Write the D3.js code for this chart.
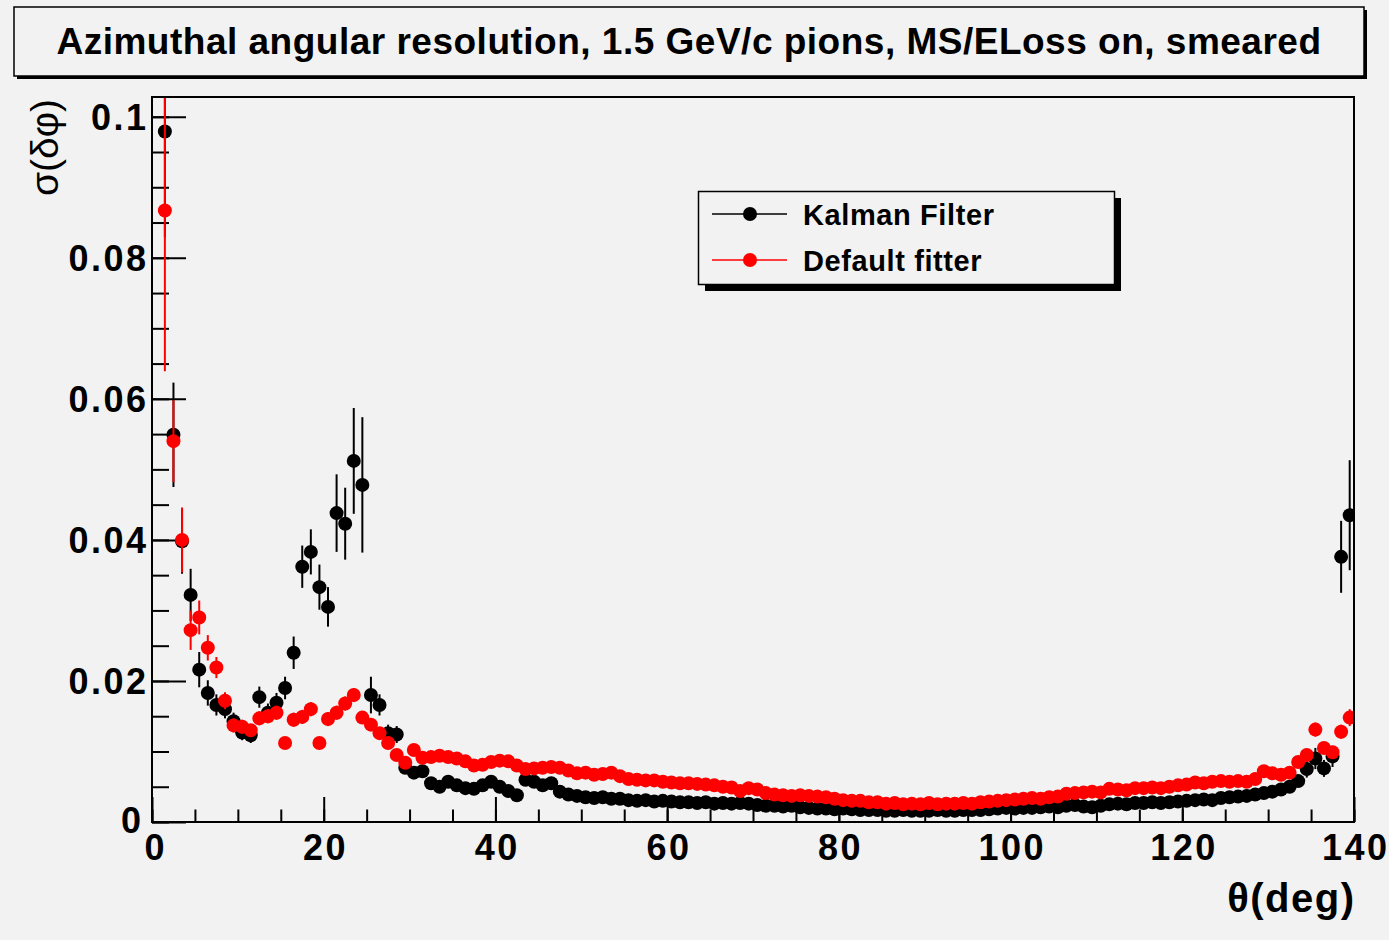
<!DOCTYPE html>
<html><head><meta charset="utf-8">
<script src="https://cdn.jsdelivr.net/npm/d3@7"></script>
<style>
html,body{margin:0;padding:0;background:#f2f2f2;}
svg{display:block;}
text{font-family:"Liberation Sans",Arial,Helvetica,sans-serif;}
</style></head>
<body>
<svg id="c" width="1389" height="940"></svg>
<script>
// ---------- data ----------
const title = "Azimuthal angular resolution, 1.5 GeV/c pions, MS/ELoss on, smeared";
const xTitle = "θ(deg)";
const yTitle = "σ(δφ)";
const seriesNames = ["Kalman Filter", "Default fitter"];
const xTicks = [0, 20, 40, 60, 80, 100, 120, 140];
const xTickLabels = ["0", "20", "40", "60", "80", "100", "120", "140"];
const yTicks = [0, 0.02, 0.04, 0.06, 0.08, 0.1];
const yTickLabels = ["0", "0.02", "0.04", "0.06", "0.08", "0.1"];

// bin centres (deg)
const theta = [1.5,2.5,3.5,4.5,5.5,6.5,7.5,8.5,9.5,10.5,11.5,12.5,13.5,14.5,15.5,16.5,17.5,18.5,19.5,20.5,
21.5,22.5,23.5,24.5,25.5,26.5,27.5,28.5,29.5,30.5,31.5,32.5,33.5,34.5,35.5,36.5,37.5,38.5,39.5,40.5,
41.5,42.5,43.5,44.5,45.5,46.5,47.5,48.5,49.5,50.5,51.5,52.5,53.5,54.5,55.5,56.5,57.5,58.5,59.5,60.5,
61.5,62.5,63.5,64.5,65.5,66.5,67.5,68.5,69.5,70.5,71.5,72.5,73.5,74.5,75.5,76.5,77.5,78.5,79.5,80.5,
81.5,82.5,83.5,84.5,85.5,86.5,87.5,88.5,89.5,90.5,91.5,92.5,93.5,94.5,95.5,96.5,97.5,98.5,99.5,100.5,
101.5,102.5,103.5,104.5,105.5,106.5,107.5,108.5,109.5,110.5,111.5,112.5,113.5,114.5,115.5,116.5,117.5,118.5,119.5,120.5,
121.5,122.5,123.5,124.5,125.5,126.5,127.5,128.5,129.5,130.5,131.5,132.5,133.5,134.5,135.5,136.5,137.5,138.5,139.5];

const kalman = [0.0979,0.0549,0.0398,0.0322,0.0216,0.0183,0.0166,0.0160,0.0143,0.0127,
0.0123,0.0177,0.0155,0.0169,0.0190,0.0240,0.0362,0.0383,0.0333,0.0305,
0.0438,0.0423,0.0512,0.0478,0.0180,0.0166,0.0126,0.0124,0.0077,0.0070,
0.0072,0.0055,0.0050,0.0057,0.0052,0.0048,0.0047,0.0052,0.0057,0.0050,
0.0044,0.0038,0.0060,0.0057,0.0052,0.0055,0.0043,0.0039,0.0037,0.0035,
0.0034,0.0035,0.0033,0.0033,0.0031,0.0030,0.0031,0.0029,0.0030,0.0029,
0.0028,0.0028,0.0027,0.0028,0.0026,0.0027,0.0026,0.0027,0.0026,0.0024,
0.0023,0.0023,0.0022,0.0023,0.0021,0.0020,0.0019,0.0019,0.0018,0.0019,
0.0018,0.0017,0.0017,0.0017,0.0016,0.0016,0.0017,0.0016,0.0016,0.0016,
0.0017,0.0016,0.0016,0.0017,0.0017,0.0017,0.0018,0.0019,0.0020,0.0019,
0.0020,0.0020,0.0021,0.0022,0.0021,0.0023,0.0024,0.0022,0.0021,0.0023,
0.0025,0.0026,0.0025,0.0027,0.0027,0.0028,0.0027,0.0028,0.0029,0.0030,
0.0031,0.0032,0.0031,0.0034,0.0035,0.0036,0.0037,0.0039,0.0041,0.0043,
0.0046,0.0050,0.0058,0.0075,0.0090,0.0076,0.0093,0.0376,0.0435];

const kalmanErr = [0.0150,0.0074,0.0046,0.0037,0.0025,0.0018,0.0015,0.0013,0.0012,0.0011,
0.0011,0.0015,0.0013,0.0014,0.0016,0.0023,0.0030,0.0032,0.0032,0.0028,
0.0055,0.0051,0.0075,0.0096,0.0026,0.0015,0.0012,0.0012,0.0008,0.0006,
0.0006,0.0005,0.0005,0.0005,0.0005,0.0005,0.0005,0.0005,0.0005,0.0005,
0.0004,0.0004,0.0005,0.0005,0.0005,0.0005,0.0004,0.0004,0.0004,0.0004,
0.0003,0.0003,0.0003,0.0003,0.0003,0.0003,0.0003,0.0003,0.0003,0.0003,
0.0003,0.0003,0.0003,0.0003,0.0003,0.0003,0.0003,0.0003,0.0003,0.0002,
0.0002,0.0002,0.0002,0.0002,0.0002,0.0002,0.0002,0.0002,0.0002,0.0002,
0.0002,0.0002,0.0002,0.0002,0.0002,0.0002,0.0002,0.0002,0.0002,0.0002,
0.0002,0.0002,0.0002,0.0002,0.0002,0.0002,0.0002,0.0002,0.0002,0.0002,
0.0002,0.0002,0.0002,0.0002,0.0002,0.0002,0.0002,0.0002,0.0002,0.0002,
0.0003,0.0003,0.0003,0.0003,0.0003,0.0003,0.0003,0.0003,0.0003,0.0003,
0.0003,0.0003,0.0003,0.0004,0.0004,0.0004,0.0004,0.0004,0.0005,0.0005,
0.0005,0.0006,0.0008,0.0012,0.0015,0.0012,0.0015,0.0051,0.0078];

const defaultFit = [0.0867,0.0540,0.0400,0.0272,0.0290,0.0247,0.0219,0.0172,0.0137,0.0135,
0.0130,0.0147,0.0150,0.0155,0.0112,0.0145,0.0149,0.0160,0.0112,0.0146,
0.0155,0.0168,0.0180,0.0148,0.0138,0.0126,0.0112,0.0095,0.0084,0.0102,
0.0091,0.0092,0.0094,0.0092,0.0090,0.0086,0.0080,0.0081,0.0085,0.0087,
0.0086,0.0080,0.0075,0.0076,0.0077,0.0078,0.0077,0.0073,0.0069,0.0070,
0.0067,0.0068,0.0070,0.0065,0.0061,0.0060,0.0059,0.0059,0.0057,0.0056,
0.0055,0.0055,0.0054,0.0053,0.0052,0.0050,0.0049,0.0044,0.0048,0.0046,
0.0041,0.0039,0.0038,0.0037,0.0038,0.0037,0.0036,0.0035,0.0033,0.0031,
0.0030,0.0030,0.0028,0.0028,0.0026,0.0027,0.0025,0.0026,0.0025,0.0027,
0.0025,0.0026,0.0026,0.0027,0.0026,0.0028,0.0029,0.0030,0.0031,0.0032,
0.0033,0.0034,0.0033,0.0035,0.0036,0.0040,0.0041,0.0042,0.0043,0.0042,
0.0047,0.0046,0.0045,0.0048,0.0048,0.0049,0.0048,0.0050,0.0052,0.0053,
0.0056,0.0055,0.0057,0.0058,0.0057,0.0058,0.0057,0.0061,0.0072,0.0069,
0.0067,0.0070,0.0085,0.0095,0.0131,0.0105,0.0099,0.0128,0.0148];

const defaultErr = [0.0228,0.0058,0.0046,0.0028,0.0024,0.0018,0.0015,0.0012,0.0010,0.0010,
0.0009,0.0010,0.0010,0.0010,0.0008,0.0010,0.0010,0.0010,0.0008,0.0010,
0.0010,0.0010,0.0010,0.0009,0.0009,0.0008,0.0007,0.0006,0.0006,0.0006,
0.0005,0.0005,0.0005,0.0005,0.0005,0.0005,0.0005,0.0005,0.0005,0.0005,
0.0005,0.0005,0.0004,0.0004,0.0004,0.0004,0.0004,0.0004,0.0004,0.0004,
0.0004,0.0004,0.0004,0.0004,0.0003,0.0003,0.0003,0.0003,0.0003,0.0003,
0.0003,0.0003,0.0003,0.0003,0.0003,0.0003,0.0003,0.0003,0.0003,0.0003,
0.0002,0.0002,0.0002,0.0002,0.0002,0.0002,0.0002,0.0002,0.0002,0.0002,
0.0002,0.0002,0.0002,0.0002,0.0002,0.0002,0.0002,0.0002,0.0002,0.0002,
0.0002,0.0002,0.0002,0.0002,0.0002,0.0002,0.0002,0.0002,0.0002,0.0002,
0.0002,0.0002,0.0002,0.0002,0.0002,0.0003,0.0003,0.0003,0.0003,0.0003,
0.0003,0.0003,0.0003,0.0003,0.0003,0.0003,0.0003,0.0003,0.0003,0.0003,
0.0003,0.0003,0.0003,0.0003,0.0003,0.0003,0.0003,0.0004,0.0004,0.0004,
0.0004,0.0004,0.0005,0.0006,0.0010,0.0008,0.0008,0.0010,0.0012];

const seriesColors = ["#000000", "#ff0000"];

// ---------- drawing ----------
const svg = d3.select("#c");
const BG = "#f2f2f2";
const FONT = '"Liberation Sans", Arial, Helvetica, sans-serif';

svg.append("rect").attr("width",1389).attr("height",940).attr("fill",BG);

const x = d3.scaleLinear().domain([0,140]).range([152,1354]);
const y = d3.scaleLinear().domain([0,0.1028]).range([822,97]);

const x0 = x.range()[0], x1 = x.range()[1], y0 = y.range()[0], y1 = y.range()[1];

svg.append("defs").append("clipPath").attr("id","plotclip")
  .append("rect").attr("x",x0).attr("y",y1).attr("width",x1-x0).attr("height",y0-y1);

// title box with shadow
svg.append("rect").attr("x",17).attr("y",10).attr("width",1350).attr("height",69).attr("fill","#000");
svg.append("rect").attr("x",14).attr("y",7).attr("width",1350).attr("height",69)
  .attr("fill",BG).attr("stroke","#000").attr("stroke-width",1.5);
svg.append("text").attr("x",689).attr("y",54).attr("text-anchor","middle")
  .attr("font-family",FONT).attr("font-weight","bold").attr("font-size",37)
  .attr("letter-spacing","0.5px").attr("fill","#000").text(title);

// axes
const xMinor = d3.range(0,141,5);
const yMinor = d3.range(0,21).map(i=>i*0.005);
const LS = 2.5;

svg.append("g").attr("transform",`translate(0,${y0})`)
  .call(d3.axisBottom(x).tickValues(xMinor).tickSizeInner(-12.5).tickSizeOuter(0).tickFormat(""))
  .call(g=>{g.select(".domain").remove(); g.selectAll("line").attr("stroke","#000").attr("stroke-width",2);});
const xAx = svg.append("g").attr("transform",`translate(0,${y0})`)
  .call(d3.axisBottom(x).tickValues(xTicks).tickSizeInner(-25).tickSizeOuter(0).tickPadding(12)
        .tickFormat((d,i)=>xTickLabels[i]));
xAx.select(".domain").remove();
xAx.selectAll("line").attr("stroke","#000").attr("stroke-width",2);
xAx.selectAll("text").attr("font-family",FONT).attr("font-weight","bold").attr("font-size",36)
  .attr("letter-spacing",LS+"px").attr("dx",(d,i)=> i===0 ? (LS/2+2)+"px" : (LS/2)+"px").attr("fill","#000");

svg.append("g").attr("transform",`translate(${x0},0)`)
  .call(d3.axisLeft(y).tickValues(yMinor).tickSizeInner(-17).tickSizeOuter(0).tickFormat(""))
  .call(g=>{g.select(".domain").remove(); g.selectAll("line").attr("stroke","#000").attr("stroke-width",2);});
const yAx = svg.append("g").attr("transform",`translate(${x0},0)`)
  .call(d3.axisLeft(y).tickValues(yTicks).tickSizeInner(-34).tickSizeOuter(0).tickPadding(6)
        .tickFormat((d,i)=>yTickLabels[i]));
yAx.select(".domain").remove();
yAx.selectAll("line").attr("stroke","#000").attr("stroke-width",2);
yAx.selectAll("text").attr("font-family",FONT).attr("font-weight","bold").attr("font-size",36)
  .attr("letter-spacing",LS+"px").attr("dx",(d,i)=> i===0 ? (LS-5)+"px" : LS+"px").attr("fill","#000")
  .attr("dy",(d,i)=> i===0 ? "0.3em" : "0.36em");

// series
const series = [
  {name: seriesNames[0], vals: kalman, errs: kalmanErr, color: seriesColors[0]},
  {name: seriesNames[1], vals: defaultFit, errs: defaultErr, color: seriesColors[1]}
];
const R = 7;
const plot = svg.append("g").attr("clip-path","url(#plotclip)");
series.forEach(s=>{
  const g = plot.append("g");
  const pts = theta.map((t,i)=>({t, v:s.vals[i], e:s.errs[i]}));
  g.selectAll("line.err").data(pts).enter().append("line")
    .attr("x1",d=>x(d.t)).attr("x2",d=>x(d.t))
    .attr("y1",d=>y(d.v-d.e)).attr("y2",d=>y(d.v+d.e))
    .attr("stroke",s.color).attr("stroke-width",2);
  g.selectAll("line.xerr").data(pts).enter().append("line")
    .attr("x1",d=>x(d.t-0.5)).attr("x2",d=>x(d.t+0.5))
    .attr("y1",d=>y(d.v)).attr("y2",d=>y(d.v))
    .attr("stroke",s.color).attr("stroke-width",2);
  g.selectAll("circle").data(pts).enter().append("circle")
    .attr("cx",d=>x(d.t)).attr("cy",d=>y(d.v)).attr("r",R).attr("fill",s.color);
});

// frame
svg.append("rect").attr("x",x0).attr("y",y1).attr("width",x1-x0).attr("height",y0-y1)
  .attr("fill","none").attr("stroke","#000").attr("stroke-width",2);

// axis titles
svg.append("text").attr("x",1354+1.5).attr("y",912).attr("text-anchor","end")
  .attr("font-family",FONT).attr("font-weight","bold").attr("font-size",40)
  .attr("letter-spacing","1.5px").attr("fill","#000").text(xTitle);
svg.append("text").attr("transform","translate(58,99) rotate(-90)").attr("text-anchor","end")
  .attr("font-family",FONT).attr("font-size",39).attr("fill","#000").text(yTitle);

// legend
const lg = svg.append("g");
lg.append("rect").attr("x",705).attr("y",198).attr("width",416).attr("height",93).attr("fill","#000");
lg.append("rect").attr("x",698.5).attr("y",191.5).attr("width",416).attr("height",93)
  .attr("fill",BG).attr("stroke","#000").attr("stroke-width",1.5);
series.forEach((s,i)=>{
  const yy = 214 + i*46;
  lg.append("line").attr("x1",712).attr("x2",787).attr("y1",yy).attr("y2",yy)
    .attr("stroke",s.color).attr("stroke-width",1.3);
  lg.append("circle").attr("cx",750).attr("cy",yy).attr("r",R).attr("fill",s.color);
  lg.append("text").attr("x",803).attr("y",yy+11).attr("font-family",FONT).attr("font-weight","bold")
    .attr("font-size",29).attr("letter-spacing","0.6px").attr("fill","#000").text(s.name);
});
</script>
</body></html>
